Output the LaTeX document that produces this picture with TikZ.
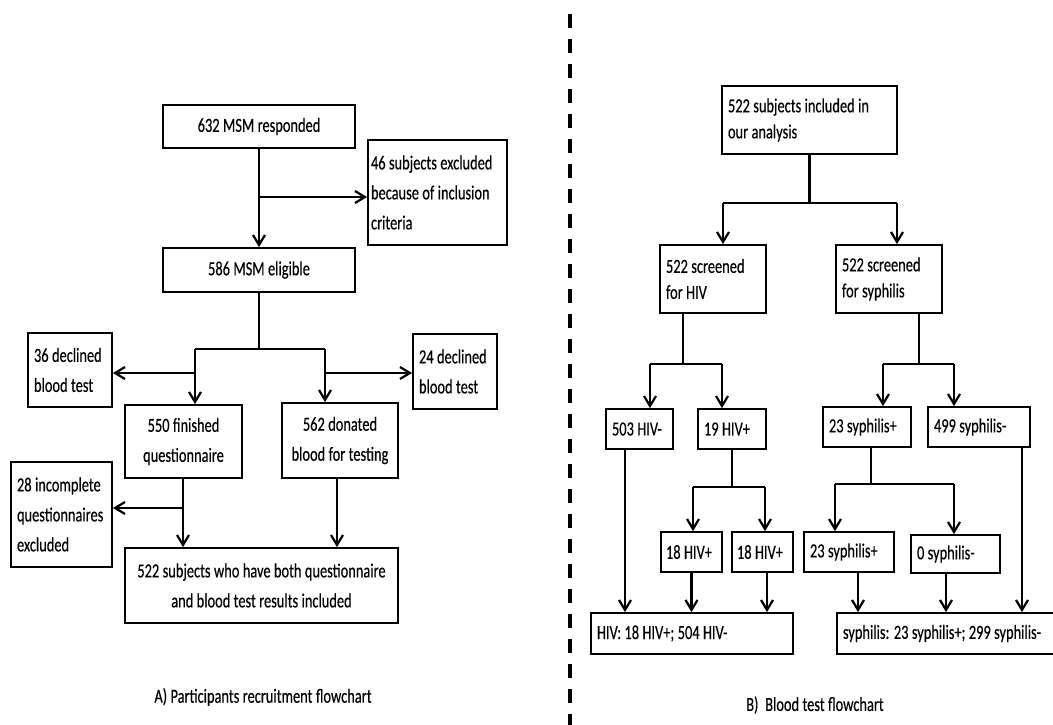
\documentclass[tikz,border=0pt]{standalone}
\usepackage{fontspec}
\setmainfont{Carlito}[FakeStretch=0.72, FakeBold=0.3]
\usetikzlibrary{arrows.meta}
\newcommand\fa{\fontsize{20}{30}\selectfont\spaceskip=3.4pt plus 1pt minus 1pt\relax}
\newcommand\fb{\fontsize{20}{26}\selectfont\spaceskip=3.4pt plus 1pt minus 1pt\relax}
\begin{document}
\begin{tikzpicture} [
   x=1pt, y=-1pt,
   font=\fa,
   b/.style={draw, line width=1.8pt, inner xsep=6pt, inner ysep=0pt, align=flush left},
   c/.style={b, align=flush center},
   r/.style={b, font=\fb},
   ar/.style={line width=2.2pt, -{Straight Barb[length=10pt,width=12pt,line width=2.2pt]}},
   ln/.style={line width=2.2pt}
]
   \useasboundingbox (0,0) rectangle (1053,725);
   % A) recruitment
   \node (resp)  [c, minimum width=192pt, minimum height=43pt, text width=180pt] at (259,126.5) {632 MSM responded};
   \node (excl)  [b, inner xsep=3pt, minimum width=139pt, minimum height=105pt, text width=133pt] at (437.5,192.5) {46 subjects excluded\\because of inclusion\\criteria};
   \node (elig)  [c, minimum width=192pt, minimum height=44pt, text width=180pt] at (259,270) {586 MSM eligible};
   \node (decA)  [b, minimum width=84pt, minimum height=74pt, text width=72pt] at (70,370) {36 declined\\blood test};
   \node (decB)  [b, minimum width=84pt, minimum height=75pt, text width=72pt] at (455,371.5) {24 declined\\blood test};
   \node (quest) [c, minimum width=117pt, minimum height=73pt, text width=105pt] at (183.5,441.5) {550 finished\\questionnaire};
   \node (donat) [c, minimum width=116pt, minimum height=75pt, text width=104pt] at (340,440.5) {562 donated\\blood for testing};
   \node (incom) [b, minimum width=101pt, minimum height=105pt, text width=89pt] at (61.5,514.5) {28 incomplete\\questionnaires\\excluded};
   \node (both)  [c, minimum width=273pt, minimum height=75pt, text width=261pt] at (261.5,585.5) {522 subjects who have both questionnaire\\and blood test results included};
   \node (capA) at (263,697) {A) Participants recruitment flowchart};

   \coordinate (jExcl) at (259,197);
   \coordinate (jElig) at (259,349);
   \coordinate (jQ) at (195,349);
   \coordinate (jD) at (325,349);
   \coordinate (jQd) at (195,373);
   \coordinate (jDd) at (325,373);
   \coordinate (jInc) at (183,508);
   \draw[ar] (resp) -- (elig);
   \draw[ar] (jExcl) -- (jExcl -| excl.west);
   \draw[ln] (elig) -- (jElig);
   \draw[ln] (jQ) -- (jD);
   \draw[ar] (jQ) -- (jQ |- quest.north);
   \draw[ar] (jD) -- (jD |- donat.north);
   \draw[ar] (jQd) -- (jQd -| decA.east);
   \draw[ar] (jDd) -- (jDd -| decB.west);
   \draw[ar] (jInc |- quest.south) -- (jInc |- both.north);
   \draw[ar] (jInc) -- (jInc -| incom.east);
   \draw[ar] ([xshift=-3pt]donat.south) -- ([xshift=-3pt]donat.south |- both.north);

   % dividing line
   \draw[line width=4pt, dash pattern=on 14pt off 11pt] (570,14) -- (570,725);

   % B) blood test
   \node (incl)  [r, minimum width=175pt, minimum height=68pt, text width=163pt] at (809.5,120) {522 subjects included in\\our analysis};
   \node (scrH)  [r, minimum width=106pt, minimum height=68pt, text width=94pt] at (713,279) {522 screened\\for HIV};
   \node (scrS)  [r, minimum width=106pt, minimum height=68pt, text width=94pt] at (889,279) {522 screened\\for syphilis};
   \node (hneg)  [r, minimum width=67pt, minimum height=40pt, text width=55pt] at (639.5,429) {503 HIV-};
   \node (hpos)  [r, minimum width=68pt, minimum height=40pt, text width=56pt] at (732,429) {19 HIV+};
   \node (spos)  [r, minimum width=88pt, minimum height=40pt, text width=76pt] at (867,427) {23 syphilis+};
   \node (sneg)  [r, minimum width=102pt, minimum height=40pt, text width=90pt] at (979,427) {499 syphilis-};
   \node (hposA) [r, inner xsep=5pt, minimum width=61pt, minimum height=40pt, text width=51pt] at (691.5,552) {18 HIV+};
   \node (hposB) [r, inner xsep=5pt, minimum width=61pt, minimum height=40pt, text width=51pt] at (762.5,552) {18 HIV+};
   \node (sposB) [r, minimum width=90pt, minimum height=40pt, text width=78pt] at (849,552) {23 syphilis+};
   \node (snegB) [r, minimum width=89pt, minimum height=38pt, text width=77pt] at (955.5,554) {0 syphilis-};
   \node (hres)  [r, minimum width=202pt, minimum height=41pt, text width=190pt] at (692,633.5) {HIV: 18 HIV+; 504 HIV-};
   \node (sres)  [r, minimum width=220pt, minimum height=41pt, text width=208pt] at (947,633.5) {syphilis: 23 syphilis+; 299 syphilis-};
   \node (capB) at (815,705) {B)\ \ Blood test flowchart};

   \coordinate (jIncl) at (809.5,203);
   \coordinate (jH) at (723,203);
   \coordinate (jS) at (897,203);
   \coordinate (jHb) at (683,364);
   \coordinate (jHl) at (650,364);
   \coordinate (jHr) at (722,364);
   \coordinate (jSb) at (919,364);
   \coordinate (jSl) at (883,364);
   \coordinate (jSr) at (954,364);
   \coordinate (jP) at (732,487);
   \coordinate (jPl) at (693,487);
   \coordinate (jPr) at (765,487);
   \coordinate (jQs) at (871,484);
   \coordinate (jQl) at (835,484);
   \coordinate (jQr) at (954,484);
   \draw[ln] (incl) -- (jIncl);
   \draw[ln] (jH) -- (jS);
   \draw[ar] (jH) -- (jH |- scrH.north);
   \draw[ar] (jS) -- (jS |- scrS.north);
   \draw[ln] (jHb |- scrH.south) -- (jHb);
   \draw[ln] (jHl) -- (jHr);
   \draw[ar] (jHl) -- (jHl |- hneg.north);
   \draw[ar] (jHr) -- (jHr |- hpos.north);
   \draw[ln] (jSb |- scrS.south) -- (jSb);
   \draw[ln] (jSl) -- (jSr);
   \draw[ar] (jSl) -- (jSl |- spos.north);
   \draw[ar] (jSr) -- (jSr |- sneg.north);
   \draw[ln] (hpos) -- (jP);
   \draw[ln] (jPl) -- (jPr);
   \draw[ar] (jPl) -- (jPl |- hposA.north);
   \draw[ar] (jPr) -- (jPr |- hposB.north);
   \draw[ln] (jQs |- spos.south) -- (jQs);
   \draw[ln] (jQl) -- (jQr);
   \draw[ar] (jQl) -- (jQl |- sposB.north);
   \draw[ar] (jQr) -- (jQr |- snegB.north);
   \draw[ar] ([xshift=-14.5pt]hneg.south) -- ([xshift=-14.5pt]hneg.south |- hres.north);
   \draw[ar] (hposA) -- (hposA |- hres.north);
   \draw[ar] ([xshift=4.5pt]hposB.south) -- ([xshift=4.5pt]hposB.south |- hres.north);
   \draw[ar] ([xshift=9pt]sposB.south) -- ([xshift=9pt]sposB.south |- sres.north);
   \draw[ar] ([xshift=-9.5pt]snegB.south) -- ([xshift=-9.5pt]snegB.south |- sres.north);
   \draw[ar] ([xshift=43pt]sneg.south) -- ([xshift=43pt]sneg.south |- sres.north);
\end{tikzpicture}
\end{document}
